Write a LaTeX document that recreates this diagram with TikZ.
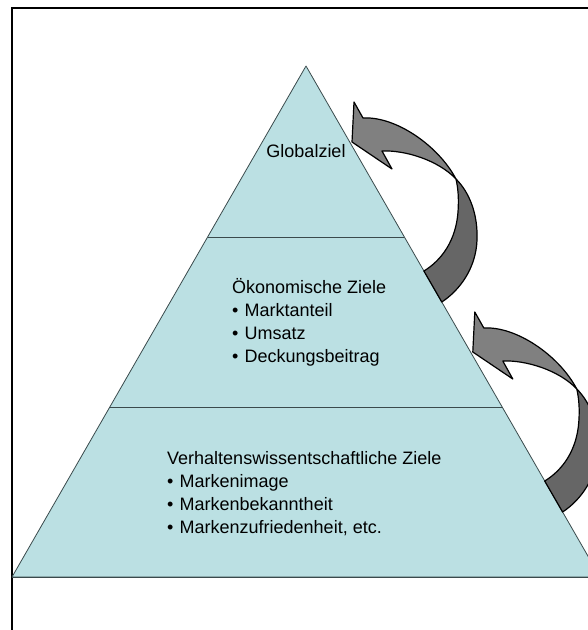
\documentclass[tikz,border=0pt]{standalone}
\usepackage{fontspec}
\setmainfont{Liberation Sans}
\definecolor{pyr}{HTML}{BBE0E3}
\definecolor{pyrline}{HTML}{3A4A4C}
\definecolor{arrlight}{HTML}{808080}
\definecolor{arrdark}{HTML}{666666}
\newcommand\pbul{\makebox[12.5pt][l]{•}}
\tikzset{
  lbl/.style={font=\fontsize{18}{23}\selectfont, inner sep=0pt, text=black},
  pyrface/.style={fill=pyr, draw=pyrline, line width=0.8pt, line join=round},
  divline/.style={draw=pyrline, line width=1pt},
  lightpart/.style={fill=arrlight, draw=black, line width=1.2pt, line join=round},
  darkpart/.style={fill=arrdark, draw=black, line width=1.2pt, line join=round},
  curvarrow/.pic={
    \draw[darkpart] (423.9,271) .. controls (442,260) and (456,240) .. (458,212)
      .. controls (459,198) and (458,188) .. (456,179)
      .. controls (470,193) and (478,215) .. (477,240)
      .. controls (476,268) and (460,290) .. (441.8,302) -- cycle;
    \draw[lightpart] (352,142) -- (354,102) -- (363,118)
      .. controls (395,116) and (438,145) .. (456,179)
      .. controls (438,160) and (405,150) .. (382,151)
      -- (392,169) -- cycle;
  }
}
\begin{document}
\begin{tikzpicture}[x=1pt,y=-1pt]
\useasboundingbox (0,0) rectangle (588,630);
\clip (0,0) rectangle (588,630);
\fill[white] (0,0) rectangle (588,630);
\draw[line width=1.5pt] (12,8) rectangle (650,690);
% pyramid
\coordinate (apex) at (306,66);
\coordinate (bl) at (12,577);
\coordinate (br) at (600,577);
\coordinate (d1l) at (207.6,237);
\coordinate (d1r) at (404.4,237);
\coordinate (d2l) at (109.8,407);
\coordinate (d2r) at (502.2,407);
\draw[pyrface] (apex) -- (br) -- (bl) -- cycle;
\draw[divline] (d1l) -- (d1r);
\draw[divline] (d2l) -- (d2r);
\draw[divline] (bl) -- (br);
% curved arrows
\pic at (0,0) {curvarrow};
\pic at (120.8,210) {curvarrow};
% texts
\node[lbl, anchor=base] (glob) at (306,157.5) {Globalziel};
\node[lbl, anchor=base west] (oek) at (232,293) {\begin{tabular}[t]{@{}l@{}}Ökonomische Ziele\\ \pbul Marktanteil\\ \pbul Umsatz\\ \pbul Deckungsbeitrag\end{tabular}};
\node[lbl, anchor=base west] (verh) at (167,464) {\begin{tabular}[t]{@{}l@{}}Verhaltenswissentschaftliche Ziele\\ \pbul Markenimage\\ \pbul Markenbekanntheit\\ \pbul Markenzufriedenheit, etc.\end{tabular}};
\end{tikzpicture}
\end{document}
